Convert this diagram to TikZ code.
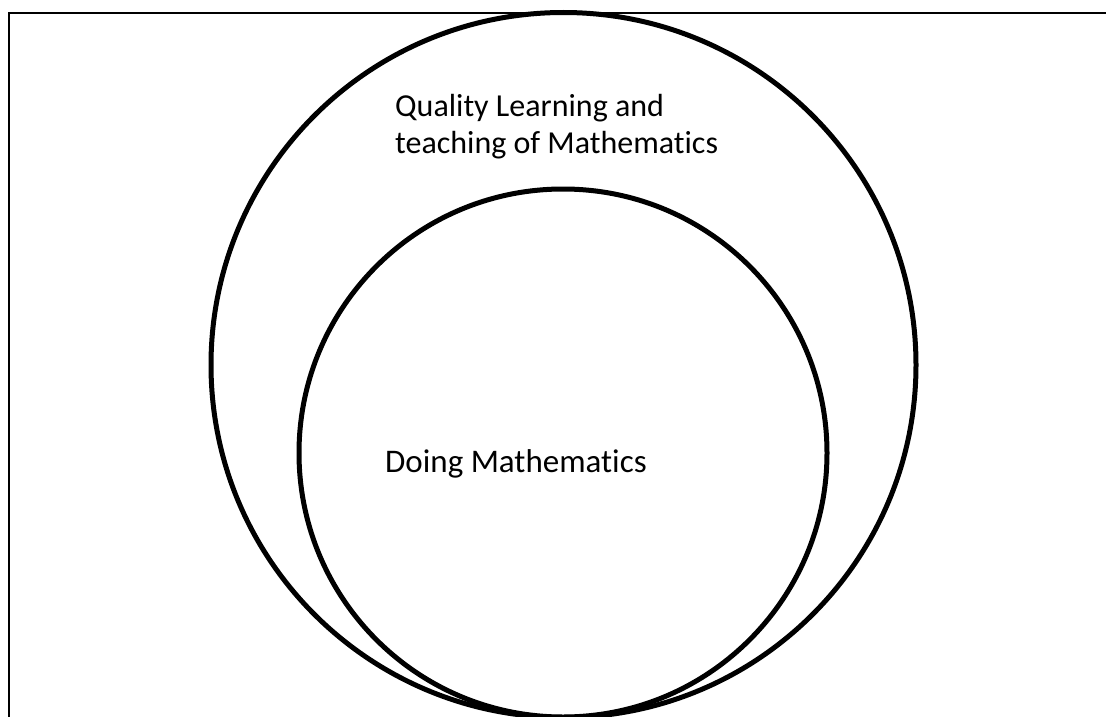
\documentclass[tikz,border=0pt]{standalone}
\usepackage{fontspec}
\setmainfont[Ligatures={NoCommon}]{Carlito}
\begin{document}
\begin{tikzpicture}[x=1pt,y=-1pt,
  ring/.style={circle,draw=black,line width=5pt,inner sep=0pt},
  lbl/.style={font=\fontsize{32}{36}\selectfont,inner sep=0pt,align=left}]
\useasboundingbox (0,0) rectangle (1106,717);
\clip (0,0) rectangle (1106,717);
\fill[white] (0,0) rectangle (1106,717);
\draw[line width=2pt] (9,740) -- (9,13) -- (1120,13);
\node[ring,minimum size=705pt] (outer) at (563.5,365) {};
\node[ring,minimum size=528pt] (inner) at (563,453) {};
\node[lbl,anchor=base west] (q) at (395,153) {Quality Learning and\\teaching of Mathematics};
\node[lbl,anchor=base west,font=\fontsize{33}{38}\selectfont] (d) at (385,472) {Doing Mathematics};
\end{tikzpicture}
\end{document}
